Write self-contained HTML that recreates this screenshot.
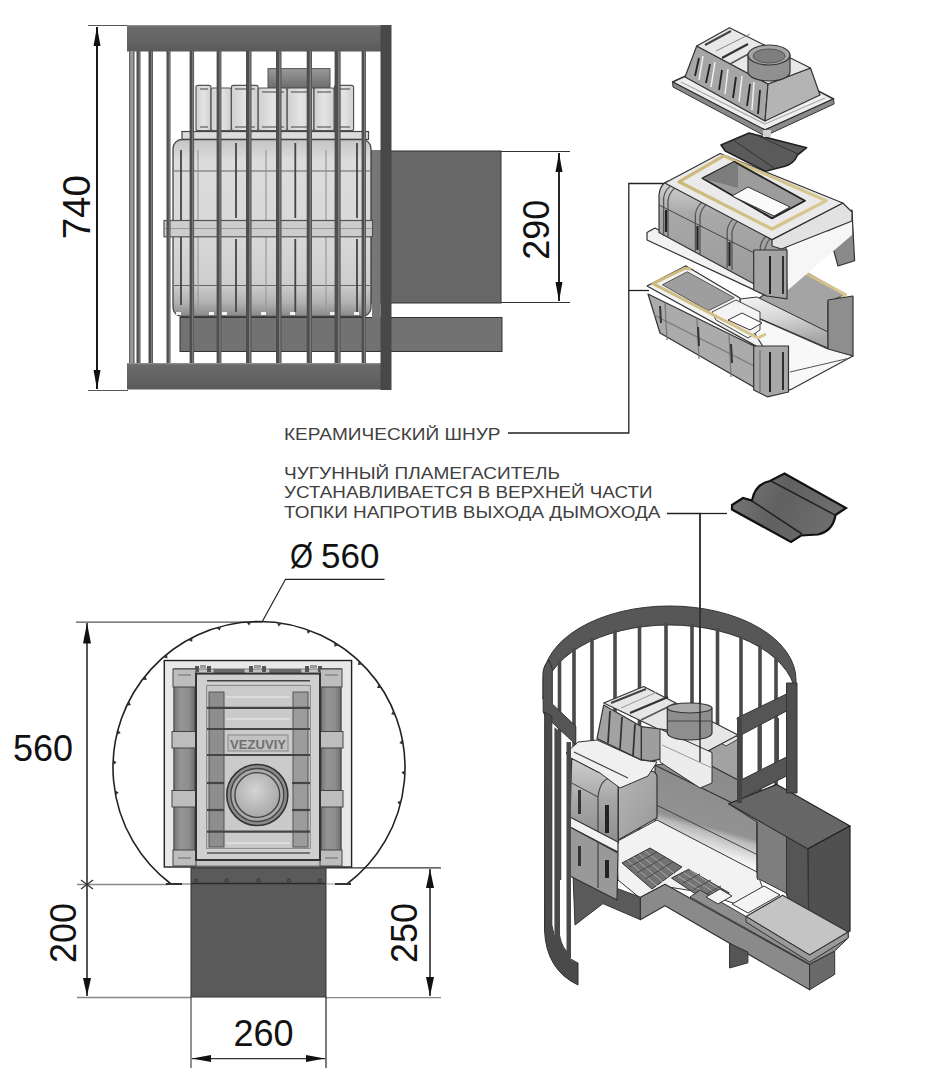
<!DOCTYPE html>
<html><head><meta charset="utf-8">
<style>
html,body{margin:0;padding:0;background:#fff;width:933px;height:1080px;overflow:hidden}
svg{display:block}
text{font-family:"Liberation Sans",sans-serif}
</style></head>
<body>
<svg width="933" height="1080" viewBox="0 0 933 1080">
<defs>
<linearGradient id="plate" x1="0" y1="0" x2="0" y2="1">
<stop offset="0" stop-color="#9a9a9a"/><stop offset="0.07" stop-color="#6a6a6a"/><stop offset="0.6" stop-color="#636363"/><stop offset="1" stop-color="#5a5a5a"/>
</linearGradient>
<linearGradient id="body" x1="0" y1="0" x2="0" y2="1">
<stop offset="0" stop-color="#d0d0d0"/><stop offset="0.15" stop-color="#e6e6e6"/><stop offset="0.8" stop-color="#dcdcdc"/><stop offset="1" stop-color="#9a9a9a"/>
</linearGradient>
</defs>

<!-- ===== FRONT VIEW (top-left) ===== -->
<g id="front">
<!-- dimension 740 -->
<line x1="88" y1="25.5" x2="128" y2="25.5" stroke="#555" stroke-width="1.2"/>
<line x1="88" y1="390.5" x2="128" y2="390.5" stroke="#555" stroke-width="1.2"/>
<line x1="97" y1="27" x2="97" y2="389" stroke="#000" stroke-width="1.8"/>
<polygon points="97,27 93.5,46 100.5,46" fill="#111"/>
<polygon points="97,389 93.5,370 100.5,370" fill="#111"/>
<text transform="translate(90.3,207.2) rotate(-90)" text-anchor="middle" font-size="38.5" fill="#111">740</text>

<!-- flue rectangles -->
<rect x="370" y="151" width="131" height="152" fill="#676767" stroke="#333" stroke-width="1"/>
<rect x="180" y="317.5" width="322" height="34" fill="#727272" stroke="#333" stroke-width="1"/>

<!-- heater ribs top -->
<defs>
<linearGradient id="collar" x1="0" y1="0" x2="0" y2="1">
<stop offset="0" stop-color="#9a9a9a"/><stop offset="1" stop-color="#6e6e6e"/>
</linearGradient>
<linearGradient id="rib" x1="0" y1="0" x2="1" y2="0">
<stop offset="0" stop-color="#cfcfcf"/><stop offset="0.5" stop-color="#e4e4e4"/><stop offset="1" stop-color="#cfcfcf"/>
</linearGradient>
<linearGradient id="bodyv" x1="0" y1="0" x2="0" y2="1">
<stop offset="0" stop-color="#c4c4c4"/><stop offset="0.12" stop-color="#dcdcdc"/><stop offset="0.55" stop-color="#d8d8d8"/><stop offset="0.82" stop-color="#cdcdcd"/><stop offset="0.92" stop-color="#b2b2b2"/><stop offset="1" stop-color="#888"/>
</linearGradient>
</defs>
<rect x="268" y="68.6" width="62" height="19" fill="url(#collar)" stroke="#555" stroke-width="1"/>
<g fill="url(#rib)" stroke="#555" stroke-width="1.2">
<rect x="196" y="85.3" width="15" height="45.4" rx="2"/>
<rect x="211" y="88" width="20.4" height="42.7" rx="2"/>
<rect x="231.4" y="85.3" width="26.8" height="45.4" rx="2"/>
<rect x="258.2" y="88" width="29" height="42.7" rx="2"/>
<rect x="287.2" y="88" width="26.8" height="42.7" rx="2"/>
<rect x="314" y="88" width="20.3" height="42.7" rx="2"/>
<rect x="334.3" y="85.3" width="19.3" height="45.4" rx="2"/>
</g>
<g stroke="#777" stroke-width="1.5">
<line x1="200" y1="89" x2="208" y2="89"/><line x1="235" y1="89" x2="255" y2="89"/><line x1="262" y1="92" x2="284" y2="92"/>
<line x1="291" y1="92" x2="311" y2="92"/><line x1="317" y1="92" x2="331" y2="92"/><line x1="338" y1="89" x2="350" y2="89"/>
<line x1="200" y1="127" x2="208" y2="127"/><line x1="235" y1="127" x2="255" y2="127"/><line x1="262" y1="127" x2="284" y2="127"/>
<line x1="291" y1="127" x2="311" y2="127"/><line x1="317" y1="127" x2="331" y2="127"/><line x1="338" y1="127" x2="350" y2="127"/>
</g>
<rect x="182" y="131.5" width="186.5" height="8" fill="#dcdcdc" stroke="#444" stroke-width="1.2"/>
<!-- main body -->
<rect x="173" y="139.5" width="198" height="177" rx="9" fill="url(#bodyv)" stroke="#444" stroke-width="1.3"/>
<rect x="372" y="150" width="8.5" height="168" fill="#777"/>
<g stroke="#666" stroke-width="1.2">
<line x1="174" y1="171" x2="370" y2="171"/>
<line x1="174" y1="285.5" x2="370" y2="285.5"/>
</g>
<g stroke="#444" stroke-width="1.8">
<line x1="236" y1="143" x2="236" y2="218"/><line x1="295.3" y1="143" x2="295.3" y2="218"/><line x1="357" y1="143" x2="357" y2="218"/>
<line x1="236" y1="239" x2="236" y2="312"/><line x1="295.3" y1="239" x2="295.3" y2="312"/><line x1="357" y1="239" x2="357" y2="312"/>
<line x1="181" y1="150" x2="181" y2="305"/>
</g>
<g stroke="#999" stroke-width="1.2">
<line x1="198" y1="150" x2="198" y2="310"/><line x1="266" y1="150" x2="266" y2="310"/><line x1="326" y1="150" x2="326" y2="310"/>
</g>
<rect x="164" y="220.5" width="208.5" height="16.3" fill="#cdcdcd" stroke="#555" stroke-width="1.2"/>
<line x1="165" y1="228.5" x2="372" y2="228.5" stroke="#999" stroke-width="1"/>
<g fill="#f2f2f2">
<rect x="176" y="312" width="5" height="3"/><rect x="209" y="312" width="5" height="3"/><rect x="222" y="312" width="5" height="3"/>
<rect x="261" y="312" width="5" height="3"/><rect x="290" y="312" width="5" height="3"/><rect x="330" y="312" width="5" height="3"/><rect x="354" y="312" width="5" height="3"/>
</g>

<!-- top and bottom plates -->
<rect x="127" y="25" width="264" height="26.5" fill="url(#plate)"/>
<rect x="127" y="363" width="264" height="26.5" fill="url(#plate)"/>
<!-- bars -->
<g>
<rect x="129" y="51" width="5.4" height="312" fill="#9a9a9a"/><rect x="129" y="51" width="1.3" height="312" fill="#666"/><rect x="133.1" y="51" width="1.3" height="312" fill="#666"/>
<rect x="136.5" y="51" width="4" height="312" fill="#4e4e4e"/><rect x="138.7" y="51" width="1.2" height="312" fill="#7a7a7a"/>
<rect x="148.5" y="51" width="4.5" height="312" fill="#4e4e4e"/><rect x="151.0" y="51" width="1.3" height="312" fill="#7a7a7a"/>
<rect x="166.5" y="51" width="4" height="312" fill="#4e4e4e"/><rect x="168.7" y="51" width="1.2" height="312" fill="#7a7a7a"/>
<rect x="189.6" y="51" width="4.5" height="312" fill="#4e4e4e"/><rect x="192.1" y="51" width="1.3" height="312" fill="#7a7a7a"/>
<rect x="216.6" y="51" width="4.8" height="312" fill="#4e4e4e"/><rect x="219.2" y="51" width="1.4" height="312" fill="#7a7a7a"/>
<rect x="246" y="51" width="5.5" height="312" fill="#4e4e4e"/><rect x="249.0" y="51" width="1.6" height="312" fill="#7a7a7a"/>
<rect x="276" y="51" width="5.5" height="312" fill="#4e4e4e"/><rect x="279.0" y="51" width="1.6" height="312" fill="#7a7a7a"/>
<rect x="306.7" y="51" width="5.3" height="312" fill="#4e4e4e"/><rect x="309.6" y="51" width="1.6" height="312" fill="#7a7a7a"/>
<rect x="334.6" y="51" width="6" height="312" fill="#4e4e4e"/><rect x="337.9" y="51" width="1.8" height="312" fill="#7a7a7a"/>
<rect x="361.6" y="51" width="4.4" height="312" fill="#4e4e4e"/><rect x="364.0" y="51" width="1.3" height="312" fill="#7a7a7a"/>
</g>
<rect x="380.5" y="25" width="11" height="365" fill="#484848"/>

<!-- dimension 290 -->
<line x1="501" y1="151.5" x2="570" y2="151.5" stroke="#333" stroke-width="1.2"/>
<line x1="501" y1="302.5" x2="570" y2="302.5" stroke="#333" stroke-width="1.2"/>
<line x1="559" y1="153" x2="559" y2="301" stroke="#000" stroke-width="1.7"/>
<polygon points="559,153 555.5,172 562.5,172" fill="#111"/>
<polygon points="559,301 555.5,282 562.5,282" fill="#111"/>
<text transform="translate(548.5,229.7) rotate(-90)" text-anchor="middle" font-size="36" fill="#111">290</text>
</g>

<!-- leader lines -->
<g stroke="#222" stroke-width="1.3" fill="none">
<polyline points="683,183.5 628.8,183.5 628.8,433 508,433"/>
<line x1="628.8" y1="290.5" x2="649" y2="290.5"/>
<polyline points="667,513.5 700,513.5 700,762"/>
<line x1="700" y1="513.5" x2="727" y2="513.5"/>
</g>

<!-- labels -->
<g fill="#404040" font-size="16">
<text x="284" y="439.7" textLength="216.5" lengthAdjust="spacingAndGlyphs">КЕРАМИЧЕСКИЙ ШНУР</text>
<text x="284" y="479" textLength="276" lengthAdjust="spacingAndGlyphs">ЧУГУННЫЙ ПЛАМЕГАСИТЕЛЬ</text>
<text x="284" y="498.2" textLength="368.5" lengthAdjust="spacingAndGlyphs">УСТАНАВЛИВАЕТСЯ В ВЕРХНЕЙ ЧАСТИ</text>
<text x="284" y="517.5" textLength="376.5" lengthAdjust="spacingAndGlyphs">ТОПКИ НАПРОТИВ ВЫХОДА ДЫМОХОДА</text>
</g>

<!-- ===== TOP VIEW (bottom-left) ===== -->
<g id="topview">
<!-- dimension lines -->
<g stroke="#555" stroke-width="1.3">
<line x1="76" y1="622.2" x2="262" y2="622.2"/>
<line x1="77" y1="884.5" x2="168" y2="884.5" stroke="#888"/>
<line x1="77" y1="997.5" x2="191" y2="997.5" stroke="#888"/>
<line x1="326" y1="867.8" x2="441" y2="867.8" stroke="#333"/>
<line x1="326" y1="997.6" x2="441" y2="997.6" stroke="#888"/>
<line x1="191" y1="997" x2="191" y2="1068" stroke="#555"/>
<line x1="326" y1="997" x2="326" y2="1068" stroke="#333"/>
</g>
<g stroke="#111" stroke-width="1.4">
<line x1="87" y1="623" x2="87" y2="996"/>
<line x1="430" y1="869" x2="430" y2="996"/>
<line x1="192" y1="1058.6" x2="325" y2="1058.6" stroke="#333"/>
</g>
<g fill="#111">
<polygon points="87,623 83,643.5 91,643.5"/>
<polygon points="87,996 83,978 91,978"/>
<polygon points="430,869 426,888 434,888"/>
<polygon points="430,996 426,977 434,977"/>
<polygon points="192,1058.6 211,1055 211,1062"/>
<polygon points="325,1058.6 306,1055 306,1062"/>
</g>
<path d="M81,880 L93,889 M81,889 L93,880" stroke="#333" stroke-width="1.2"/>
<!-- leader Ø -->
<polyline points="262,622 285.5,579.3 384.5,579.3" fill="none" stroke="#222" stroke-width="1.2"/>
<text x="290" y="567.7" font-size="35" fill="#111" textLength="23" lengthAdjust="spacingAndGlyphs">Ø</text>
<text x="321" y="567.7" font-size="35" fill="#111">560</text>
<text x="13" y="760.7" font-size="36" fill="#111">560</text>
<text transform="translate(76,933) rotate(-90)" text-anchor="middle" font-size="36" fill="#111">200</text>
<text transform="translate(416.5,933) rotate(-90)" text-anchor="middle" font-size="36" fill="#111">250</text>
<text x="263.5" y="1045.7" text-anchor="middle" font-size="36" fill="#111">260</text>

<!-- flue -->
<rect x="191" y="868" width="135" height="129" fill="#5a5a5a" stroke="#333" stroke-width="1"/>
<line x1="191" y1="883.5" x2="326" y2="883.5" stroke="#2a2a2a" stroke-width="1.3"/>
<g fill="none" stroke="#333" stroke-width="1"><circle cx="196" cy="880.5" r="1.6"/><circle cx="226.6" cy="880.5" r="1.6"/><circle cx="258.5" cy="880.5" r="1.6"/><circle cx="289" cy="880.5" r="1.6"/><circle cx="319.8" cy="880.5" r="1.6"/></g>
<!-- circle arc -->
<path d="M171,884 A146,146 0 1 1 347,884" fill="none" stroke="#222" stroke-width="1.6"/>
<path d="M166,884 L182,884 M335,884 L351,884" stroke="#333" stroke-width="2.2"/><line x1="182" y1="884" x2="191" y2="884" stroke="#666" stroke-width="1"/><line x1="326" y1="884" x2="335" y2="884" stroke="#999" stroke-width="1"/>
<g fill="#333"><polygon points="115.3,790.7 116.1,795.0 118.7,792.3"/><polygon points="113.7,760.3 113.5,764.7 116.6,762.6"/><polygon points="118.4,730.3 117.3,734.5 120.7,733.1"/><polygon points="129.2,701.8 127.3,705.8 130.9,705.1"/><polygon points="145.7,676.3 143.0,679.8 146.7,679.9"/><polygon points="167.2,654.7 163.8,657.6 167.4,658.4"/><polygon points="192.6,638.1 188.7,640.2 192.1,641.8"/><polygon points="221.0,627.1 216.8,628.3 219.7,630.6"/><polygon points="251.0,622.3 246.7,622.6 249.1,625.4"/><polygon points="281.4,623.8 277.1,623.2 278.8,626.5"/><polygon points="310.8,631.6 306.7,630.1 307.7,633.7"/><polygon points="338.0,645.4 334.2,643.0 334.5,646.8"/><polygon points="361.7,664.5 358.5,661.4 358.0,665.1"/><polygon points="380.9,688.1 378.4,684.4 377.1,687.9"/><polygon points="394.7,715.1 393.1,711.1 391.1,714.2"/><polygon points="402.7,744.5 401.9,740.2 399.3,742.9"/><polygon points="404.3,774.9 404.5,770.5 401.4,772.6"/><polygon points="399.6,804.9 400.7,800.7 397.3,802.1"/></g>
<!-- stove square -->
<defs>
<linearGradient id="colg" x1="0" y1="0" x2="1" y2="0">
<stop offset="0" stop-color="#777"/><stop offset="0.3" stop-color="#949494"/><stop offset="0.7" stop-color="#8e8e8e"/><stop offset="1" stop-color="#6e6e6e"/>
</linearGradient>
<radialGradient id="holeg" cx="0.45" cy="0.4" r="0.6">
<stop offset="0" stop-color="#d4d4d4"/><stop offset="1" stop-color="#a8a8a8"/>
</radialGradient>
</defs>
<rect x="164.3" y="660.5" width="187.3" height="206.5" fill="#e8e8e8" stroke="#222" stroke-width="1.4"/>
<rect x="174" y="669" width="167" height="197" fill="#c4c4c4" stroke="#777" stroke-width="1"/>
<!-- top strip bars & bolts -->
<rect x="213.6" y="669" width="31" height="4.5" fill="#6a6a6a"/>
<rect x="269.3" y="669" width="32" height="4.5" fill="#6a6a6a"/>
<g fill="#555">
<rect x="195" y="666" width="4" height="6"/><rect x="207" y="666" width="4" height="6"/><rect x="200" y="665" width="6" height="3" fill="#999"/>
<rect x="249" y="666" width="4" height="6"/><rect x="262" y="666" width="4" height="6"/><rect x="254" y="665" width="7" height="3" fill="#999"/>
<rect x="305" y="666" width="4" height="6"/><rect x="318" y="666" width="4" height="6"/><rect x="310" y="665" width="7" height="3" fill="#999"/>
</g>
<!-- side columns -->
<rect x="174" y="669" width="21" height="197" fill="url(#colg)" stroke="#444" stroke-width="1"/>
<rect x="321" y="669" width="20" height="197" fill="url(#colg)" stroke="#444" stroke-width="1"/>
<g fill="#bdbdbd" stroke="#444" stroke-width="1">
<rect x="173" y="669" width="23" height="18"/>
<rect x="172" y="731.5" width="24" height="16.5"/>
<rect x="172" y="790.5" width="24" height="16.5"/>
<rect x="173" y="850" width="23" height="16"/>
<rect x="320" y="669" width="22" height="18"/>
<rect x="320" y="731.5" width="23" height="16.5"/>
<rect x="320" y="790.5" width="23" height="16.5"/>
<rect x="320" y="850" width="22" height="16"/>
</g>
<g stroke="#777" stroke-width="1.2">
<line x1="178" y1="675" x2="191" y2="675"/><line x1="325" y1="675" x2="338" y2="675"/>
<line x1="178" y1="858" x2="191" y2="858"/><line x1="325" y1="858" x2="338" y2="858"/>
</g>
<!-- inner panel -->
<rect x="196" y="673.6" width="124" height="186.4" fill="#d0d0d0" stroke="#333" stroke-width="2"/>
<line x1="207" y1="680.7" x2="310" y2="680.7" stroke="#444" stroke-width="1.5"/>
<line x1="207" y1="853" x2="310" y2="853" stroke="#555" stroke-width="1.5"/>
<rect x="206.6" y="685.4" width="103.7" height="163" fill="#cacaca" stroke="#888" stroke-width="1"/>
<rect x="209" y="692" width="15" height="155" fill="#8e8e8e" stroke="#555" stroke-width="1"/>
<rect x="293" y="692" width="15" height="155" fill="#9c9c9c" stroke="#555" stroke-width="1"/>
<g stroke="#444" stroke-width="2.2">
<line x1="207" y1="707.8" x2="310" y2="707.8"/>
<line x1="207" y1="729" x2="310" y2="729"/>
<line x1="207" y1="755" x2="310" y2="755"/>
<line x1="207" y1="783" x2="224" y2="783"/><line x1="292" y1="783" x2="310" y2="783"/>
<line x1="207" y1="810" x2="224" y2="810"/><line x1="292" y1="810" x2="310" y2="810"/>
<line x1="207" y1="831.6" x2="310" y2="831.6"/>
</g>
<g stroke="#eee" stroke-width="1">
<line x1="226" y1="697" x2="290" y2="697"/><line x1="226" y1="719" x2="290" y2="719"/><line x1="226" y1="843" x2="290" y2="843"/>
</g>
<rect x="228" y="735" width="60" height="16" fill="#c2c2c2" stroke="#888" stroke-width="1"/>
<text x="258" y="749" text-anchor="middle" font-size="13" font-weight="bold" fill="#707070" textLength="56" lengthAdjust="spacingAndGlyphs">VEZUVIY</text>
<circle cx="257.3" cy="795" r="30.5" fill="#8a8a8a" stroke="#333" stroke-width="1.6"/>
<circle cx="257.3" cy="795" r="26.5" fill="#aaaaaa" stroke="#444" stroke-width="1.4"/>
<circle cx="257.3" cy="795" r="22.4" fill="url(#holeg)" stroke="#444" stroke-width="1.4"/>
</g>


<!-- ===== EXPLODED VIEW (top-right) ===== -->
<g id="exploded" stroke-linejoin="round">
<defs>
<linearGradient id="cordg" x1="0" y1="0" x2="1" y2="0"><stop offset="0" stop-color="#cdb87c"/><stop offset="1" stop-color="#d8c892"/></linearGradient>
<linearGradient id="frontface" x1="0" y1="0" x2="0" y2="1">
<stop offset="0" stop-color="#d4d4d4"/><stop offset="0.3" stop-color="#a8a8a8"/><stop offset="1" stop-color="#9a9a9a"/>
</linearGradient>
<linearGradient id="interior" x1="0" y1="0" x2="1" y2="1">
<stop offset="0" stop-color="#a0a0a0"/><stop offset="0.55" stop-color="#e6e6e6"/><stop offset="1" stop-color="#bdbdbd"/>
</linearGradient>
</defs>
<!-- ===== lower block ===== -->
<defs>
<linearGradient id="lowin" x1="0" y1="0" x2="0.3" y2="1">
<stop offset="0" stop-color="#f4f4f4"/><stop offset="0.5" stop-color="#d6d6d6"/><stop offset="1" stop-color="#a6a6a6"/>
</linearGradient>
</defs>
<!-- back wall inner face -->
<polygon points="770,258 788,262 845.6,294.6 828,302 828,334 757,300 770,290" fill="#a4a4a4" stroke="#333" stroke-width="1.2"/>
<polyline points="788.5,264 845.6,294.6 836,302" fill="none" stroke="url(#cordg)" stroke-width="3"/>
<!-- lower inner gradient surface -->
<polygon points="740,299 757,297 828,332 828,348 740,310" fill="url(#lowin)" stroke="#333" stroke-width="1"/>
<!-- right end cut face of back wall -->
<polygon points="828,300 853,296 853,356 828,350" fill="#8e8e8e" stroke="#333" stroke-width="1.2"/>
<!-- white floor at right -->
<polygon points="735,308 828,349 853,356 790,390 768,380" fill="#f8f8f8" stroke="#333" stroke-width="1.2"/>
<line x1="790" y1="372" x2="850" y2="358" stroke="#555" stroke-width="1"/>
<!-- rim + floor left -->
<polygon points="647,286 686,265.9 740,298 740,310 762.6,346 762.6,349.6" fill="#f2f2f2" stroke="#333" stroke-width="1.2"/>
<polygon points="662.4,284.8 687.2,271.8 734.3,297.7 708.4,310.7" fill="#9e9e9e" stroke="#555" stroke-width="1"/>
<polygon points="712,312 736,300 760,312 760,330 748,338 716,320" fill="#f4f4f4" stroke="#444" stroke-width="1"/>
<polygon points="728,320 742,313 762,323 750,330" fill="#fcfcfc" stroke="#333" stroke-width="1"/>
<polyline points="691,269 684.8,268.3 653,283.6 758,338 766,334" fill="none" stroke="url(#cordg)" stroke-width="3"/>
<!-- front face -->
<polygon points="648,294 760,349 764,393 660,333" fill="#ababab" stroke="#333" stroke-width="1.2"/>
<g stroke="#777" stroke-width="1.2">
<line x1="665" y1="303" x2="667" y2="340"/><line x1="697" y1="319" x2="699" y2="359"/>
<line x1="729" y1="335" x2="731" y2="377"/>
<line x1="654" y1="315" x2="762" y2="370"/>
</g>
<g stroke="#333" stroke-width="2">
<line x1="660" y1="306" x2="661" y2="323"/><line x1="698" y1="327" x2="699" y2="346"/>
<line x1="731" y1="344" x2="732" y2="363"/>
</g>
<!-- cut face of front wall -->
<polygon points="753.7,346 788.5,346 788.5,392 767.3,396.8 753.7,390" fill="#a8a8a8" stroke="#333" stroke-width="1.2"/>
<line x1="770" y1="352" x2="770" y2="392" stroke="#222" stroke-width="2"/>
<line x1="783" y1="352" x2="783" y2="390" stroke="#222" stroke-width="1.8"/>
<line x1="760" y1="350" x2="760" y2="392" stroke="#666" stroke-width="1"/>
<!-- ===== upper block ===== -->
<!-- back hanging wall -->
<polygon points="826,222 852,210 854.6,260.8 838,266" fill="#8a8a8a" stroke="#333" stroke-width="1.2"/>
<!-- white interior -->
<polygon points="786,250 852,221 852,235 788,290" fill="#f6f6f6"/>
<!-- ledge -->
<polygon points="647,232.5 655,228 770,288 767.3,296 647,240" fill="#f2f2f2" stroke="#333" stroke-width="1.2"/>
<!-- front face -->
<path d="M659,232.5 L659,195 Q660,184 668,181 L772,239.6 L786,246 L786,291 L767,291 Z" fill="url(#frontface)" stroke="#333" stroke-width="1.2"/>
<g stroke="#555" stroke-width="1.3" fill="none">
<path d="M663.6,236 L663.6,198 Q665,188 674,184"/><path d="M668,238 L668,200 Q670,190 678,186"/>
<path d="M695.4,252 L695.4,214 Q697,204 706,200"/><path d="M700,254 L700,216 Q702,206 710,202"/>
<path d="M727.2,268 L727.2,230 Q729,220 738,216"/><path d="M732,270 L732,232 Q734,222 742,218"/>
<path d="M760.3,285 L760.3,247 Q762,237 771,233"/><path d="M765,287 L765,249 Q767,239 775,235"/>
</g>
<g stroke="#444" stroke-width="1">
<line x1="659" y1="205" x2="772" y2="262"/>
</g>
<g stroke="#222" stroke-width="2.2">
<line x1="666" y1="210" x2="666" y2="232"/><line x1="697.5" y1="226" x2="697.5" y2="250"/>
<line x1="729.5" y1="242" x2="729.5" y2="266"/><line x1="775" y1="256" x2="775" y2="286"/>
</g>
<polygon points="753.7,250 787,250 787,298.8 767,296 753.7,290" fill="#a4a4a4" stroke="#333" stroke-width="1.2"/>
<line x1="770" y1="256" x2="770" y2="294" stroke="#222" stroke-width="2"/>
<line x1="783" y1="256" x2="783" y2="294" stroke="#222" stroke-width="1.8"/>
<!-- top thickness band at right -->
<polygon points="772,239.6 842.8,203 852,212 852,221 781.5,249 772,246" fill="#e2e2e2" stroke="#333" stroke-width="1.2"/>
<!-- top surface -->
<polygon points="664.8,183 720.2,153.5 842.8,203 772,239.6" fill="#eaeaea" stroke="#333" stroke-width="1.2"/>
<polygon points="679,181.8 723.7,155.9 826.3,200.7 772,229" fill="none" stroke="url(#cordg)" stroke-width="3.2"/>
<polygon points="702.5,178.3 734.3,161.8 805,200.7 772,218.4" fill="#9c9c9c" stroke="#222" stroke-width="1.8"/>
<polygon points="703,178.5 734,162 738,165 738,188" fill="#7c7c7c"/>
<polygon points="732,196 748,187 790,207 774,216" fill="#fafafa" stroke="#333" stroke-width="1"/>

<!-- flame arrester -->
<path d="M721,145 L749,133 L806.7,147.7 L797.5,155 Q794,164 784,166.5 L765.4,171.3 L725.3,151 Z" fill="#5a5a5a" stroke="#222" stroke-width="1.6"/>
<line x1="733" y1="140" x2="774" y2="168" stroke="#333" stroke-width="1"/>
<line x1="755" y1="134.5" x2="798" y2="154" stroke="#333" stroke-width="1"/>

<!-- top cover flange -->
<polygon points="672.5,82 741,50.5 833.6,99 765,130" fill="#eeeeee" stroke="#333" stroke-width="1.5"/>
<polygon points="672.5,82 765,130 833.6,99 834,104 765,136 673,87" fill="#8a8a8a" stroke="#333" stroke-width="1"/>
<polyline points="681,82 765,124 825,98" fill="none" stroke="#aaa" stroke-width="1.2"/>
<!-- box long front face -->
<polygon points="685,77 696.7,46 768,84 765,121" fill="#a6a6a6" stroke="#333" stroke-width="1.2"/>
<g stroke="#f0f0f0" stroke-width="1.5">
<line x1="703" y1="56" x2="699" y2="80"/><line x1="715" y1="62" x2="711" y2="87"/>
<line x1="728" y1="69" x2="725" y2="94"/><line x1="742" y1="76" x2="739" y2="102"/><line x1="754" y1="82" x2="752" y2="110"/>
</g>
<g stroke="#222" stroke-width="1.8">
<line x1="699" y1="58" x2="695" y2="76"/><line x1="710" y1="64" x2="706" y2="83"/>
<line x1="722" y1="70" x2="719" y2="90"/><line x1="736" y1="77" x2="733" y2="98"/>
<line x1="750" y1="84" x2="747" y2="106"/><line x1="760" y1="90" x2="758" y2="114"/>
</g>
<!-- box right end face -->
<polygon points="765,121 768,84 810.5,68 820,95" fill="#b4b4b4" stroke="#333" stroke-width="1.2"/>
<!-- box top -->
<polygon points="696.7,46 729.5,27.7 810.5,68 768,84" fill="#e8e8e8" stroke="#333" stroke-width="1.2"/>
<line x1="705" y1="45" x2="731" y2="31" stroke="#444" stroke-width="2"/>
<line x1="716" y1="51" x2="750" y2="34" stroke="#888" stroke-width="1"/>
<line x1="722" y1="58" x2="748" y2="44" stroke="#333" stroke-width="2.2"/>
<line x1="730" y1="64" x2="752" y2="52" stroke="#555" stroke-width="1.5"/>
<!-- collar -->
<path d="M748,55 L748,72 A21,9 0 0 0 790,72 L790,55 Z" fill="#909090" stroke="#333" stroke-width="1.2"/>
<ellipse cx="769" cy="55" rx="21" ry="10" fill="#a6a6a6" stroke="#333" stroke-width="1.2"/>
<ellipse cx="769" cy="56" rx="16" ry="7" fill="#7e7e7e" stroke="#555" stroke-width="1"/>
<rect x="763" y="130" width="8" height="7" fill="#d0d0d0"/>

</g>

<!-- ===== ISO VIEW (bottom-right) ===== -->
<g id="iso" stroke-linejoin="round">
<!-- back ring band -->
<path d="M543,680 A126.5,74 0 0 1 796,680 L796,699 A126.5,74 0 0 0 543,699 Z" fill="#575757" stroke="#333" stroke-width="1"/>
<!-- back bars -->
<g fill="#4a4a4a">
<rect x="557.7" y="660" width="3.6" height="220"/>
<rect x="572.2" y="648" width="3.6" height="230"/>
<rect x="590.2" y="638" width="3.6" height="240"/>
<rect x="613.2" y="630" width="3.6" height="248"/>
<rect x="637.7" y="625" width="3.6" height="253"/>
<rect x="664.2" y="623" width="3.6" height="255"/>
<rect x="690.2" y="624" width="3.6" height="254"/>
<rect x="715.7" y="628" width="3.6" height="250"/>
<rect x="739.2" y="636" width="3.6" height="242"/>
<rect x="758.2" y="645" width="3.6" height="233"/>
<rect x="774.2" y="657" width="3.6" height="221"/>
</g>

<!-- stove body -->
<defs>
<linearGradient id="wall" gradientUnits="userSpaceOnUse" x1="705" y1="777" x2="680" y2="867">
<stop offset="0" stop-color="#8c8c8c"/><stop offset="0.5" stop-color="#929292"/><stop offset="0.56" stop-color="#bababa"/><stop offset="0.76" stop-color="#f2f2f2"/><stop offset="0.85" stop-color="#ffffff"/><stop offset="1" stop-color="#eeeeee"/>
</linearGradient>
<linearGradient id="endface" x1="0" y1="0" x2="1" y2="1">
<stop offset="0" stop-color="#b4b4b4"/><stop offset="0.6" stop-color="#a4a4a4"/><stop offset="1" stop-color="#969696"/>
</linearGradient>
<linearGradient id="ribface" x1="0" y1="0" x2="0" y2="1">
<stop offset="0" stop-color="#cfcfcf"/><stop offset="0.5" stop-color="#a6a6a6"/><stop offset="1" stop-color="#8e8e8e"/>
</linearGradient>
</defs>
<!-- cover right block -->
<polygon points="710,737 724,730 738,738 737.5,784 716,792 710,786" fill="#a2a2a2" stroke="#333" stroke-width="1"/>
<polygon points="710,737 724,730 740,738 726,746" fill="#e6e6e6" stroke="#444" stroke-width="1"/>
<!-- interior back wall -->
<polygon points="655,765 700,760 757,790 757,882 655,828" fill="url(#wall)" stroke="#333" stroke-width="1.2"/>
<line x1="655" y1="765.3" x2="757" y2="815" stroke="#333" stroke-width="1.2"/>
<line x1="655" y1="804.3" x2="757" y2="854.5" stroke="#444" stroke-width="1"/>
<!-- floor -->
<polygon points="616,842 657,820 757,872 764,892 742,906 700,892 662,886 640,898 618,880" fill="#f2f2f2" stroke="#333" stroke-width="1"/>
<!-- grates -->
<polygon points="622,863 650,848 682,867 652,889" fill="#727272" stroke="#333" stroke-width="1"/>
<polygon points="671.5,878 688.6,869.3 729.3,892.9 710,903.6" fill="#747474" stroke="#333" stroke-width="1"/>
<g stroke="#a8a8a8" stroke-width="1">
<line x1="627" y1="860" x2="657" y2="886"/><line x1="633" y1="857" x2="663" y2="882"/><line x1="639" y1="854" x2="669" y2="878"/><line x1="645" y1="851" x2="675" y2="874"/>
<line x1="678" y1="876" x2="716" y2="900"/><line x1="684" y1="873" x2="722" y2="897"/><line x1="690" y1="870" x2="726" y2="894"/>
</g>
<g stroke="#4a4a4a" stroke-width="1">
<line x1="629" y1="867" x2="657" y2="852"/><line x1="637" y1="873" x2="665" y2="857"/><line x1="645" y1="879" x2="673" y2="862"/>
<line x1="683" y1="883" x2="700" y2="874"/><line x1="693" y1="890" x2="711" y2="880"/><line x1="703" y1="896" x2="721" y2="886"/>
</g>
<!-- base -->
<polygon points="572.9,872 640.4,897.2 640.4,919.7 602.9,903.6 575,925" fill="#5a5a5a" stroke="#333" stroke-width="1"/>
<polygon points="640.4,897.2 665,884.3 809.6,964.7 809.6,989.8 665,905.7 640.4,919.7" fill="#8a8a8a" stroke="#333" stroke-width="1.2"/>
<polygon points="809.6,964.7 834.7,951.2 834.7,974.4 809.6,989.8" fill="#6a6a6a" stroke="#333" stroke-width="1"/>
<polygon points="729.5,943.5 747.9,952 747.9,962.8 729.5,968" fill="#555" stroke="#333" stroke-width="1"/>

<!-- upper ribbed face -->
<path d="M571.7,758.3 L598,772 Q612,776 618.3,787 L618.3,843 L570,818 Z" fill="url(#ribface)" stroke="#333" stroke-width="1.2"/>
<line x1="571.7" y1="783" x2="598" y2="797" stroke="#444" stroke-width="1"/>
<path d="M598,833 L598,797 Q600,780 610,778" fill="none" stroke="#444" stroke-width="1.2"/>
<rect x="605" y="805" width="4" height="28" fill="#222"/>
<rect x="578" y="790" width="3" height="24" fill="#333"/>
<!-- ledge -->
<polygon points="568,816 618,842 618,852 568,826" fill="#f2f2f2" stroke="#333" stroke-width="1.2"/>
<!-- lower ribbed face -->
<polygon points="570,827 618,853 617,900 570,876" fill="#999" stroke="#333" stroke-width="1.2"/>
<line x1="598" y1="842" x2="598" y2="888" stroke="#444" stroke-width="1.2"/>
<rect x="605" y="860" width="4" height="18" fill="#222"/>
<rect x="578" y="846" width="3" height="20" fill="#333"/>
<!-- end face -->
<path d="M618.3,787 L646,772 Q655,769 657,776 L657,818 L618.3,840 Z" fill="url(#endface)" stroke="#333" stroke-width="1.2"/>
<!-- top surface strip left of cover -->
<polygon points="566,753 578,742 597,740 641,760 657,762 648,776 620,788 600,773 571,758" fill="#f0f0f0" stroke="#333" stroke-width="1"/>
<line x1="574" y1="752" x2="628" y2="778" stroke="#444" stroke-width="1.2"/>
<!-- cover top (extends behind collar) -->
<polygon points="603.7,703 643.7,686.5 738,735 706,752" fill="#e6e6e6" stroke="#333" stroke-width="1.2"/>
<line x1="611" y1="703" x2="646" y2="689" stroke="#444" stroke-width="2"/>
<line x1="630" y1="713" x2="668" y2="697" stroke="#333" stroke-width="2.4"/>
<line x1="621" y1="708" x2="657" y2="692" stroke="#999" stroke-width="1"/>
<line x1="641" y1="720" x2="676" y2="703" stroke="#555" stroke-width="1.5"/>
<!-- cover grey ribbed face -->
<polygon points="603.7,705 641.4,726.6 641.4,760 597,738.6" fill="#a2a2a2" stroke="#333" stroke-width="1.2"/>
<g stroke="#333" stroke-width="1.8">
<line x1="610" y1="711" x2="608" y2="743"/><line x1="622" y1="717" x2="620" y2="749"/><line x1="635" y1="724" x2="633" y2="756"/>
</g>
<!-- cover rounded grey part -->
<path d="M641.4,726.6 L668,730 L672,745 Q668,760 650,761 L641.4,759.6 Z" fill="#9e9e9e" stroke="#333" stroke-width="1.2"/>
<!-- light strip -->
<polygon points="660,729 712,752.5 712,783 700,788 660,762" fill="#ececec" stroke="#333" stroke-width="1"/>
<line x1="662" y1="745" x2="712" y2="768" stroke="#999" stroke-width="1"/>
<!-- collar -->
<path d="M667.3,708 L667.3,733 A22.35,7 0 0 0 712,733 L712,708 Z" fill="#8e8e8e" stroke="#333" stroke-width="1.2"/>
<ellipse cx="689.6" cy="708" rx="22.35" ry="5" fill="#a8a8a8" stroke="#333" stroke-width="1.2"/>
<line x1="668" y1="721" x2="711" y2="721" stroke="#6a6a6a" stroke-width="2"/>

<!-- flue box -->
<polygon points="728.6,803.7 776.8,784.4 850,826 807.7,849" fill="#666" stroke="#222" stroke-width="1.2"/>
<polygon points="807.7,849 850,826 850,931 809,955" fill="#505050" stroke="#222" stroke-width="1.2"/>
<polygon points="728.6,803.7 807.7,849 809,955 786,893 757,878 757,822" fill="#7e7e7e" stroke="#333" stroke-width="1"/>
<polygon points="786.5,837 807.7,849 809,955 786.5,894" fill="#555" stroke="#333" stroke-width="1"/>
<line x1="757.5" y1="822" x2="757.5" y2="880" stroke="#444" stroke-width="1"/>
<!-- plate -->
<polygon points="690,897 809.6,964 834.7,951 848.2,938 848.2,932 809.6,955 746,916.5 700,890" fill="#8e8e8e" stroke="#333" stroke-width="1"/>
<polygon points="746,916.5 782.6,895.2 848.2,932 809.6,955" fill="#c4c4c4" stroke="#333" stroke-width="1.2"/>
<polygon points="746,916.5 809.6,955 848.2,932 848.2,938 809.6,962 746,922" fill="#9a9a9a" stroke="#333" stroke-width="1"/>
<polygon points="732,904 764,886 780,895 748,913" fill="#f4f4f4" stroke="#333" stroke-width="1"/>
<polygon points="706,897 720,889 732,896 718,904" fill="#f4f4f4" stroke="#333" stroke-width="1"/>
<!-- right front panel of cage -->
<polygon points="737,718 786.5,694 786.5,711 741,735" fill="#555" stroke="#333" stroke-width="1"/>
<polygon points="741,780 786.5,757 786.5,776 741,799" fill="#555" stroke="#333" stroke-width="1"/>
<rect x="757.5" y="727" width="4" height="44" fill="#4a4a4a"/>
<rect x="775" y="718" width="4" height="44" fill="#4a4a4a"/>
<rect x="737" y="718" width="5" height="85" fill="#444"/>
<rect x="786.5" y="683" width="10.5" height="110" fill="#4e4e4e" stroke="#333" stroke-width="1"/>

<!-- front-left ring segment and left posts -->
<path d="M543,672 Q543.5,665 549,660 L552.3,669 L552.3,704 L575.8,726.3 L575.8,744.6 L545.2,716 L543.2,712 Z" fill="#555" stroke="#333" stroke-width="1"/>
<path d="M544.7,712 L551.8,716 L551.8,925 Q556,955 578,963 L578,985 Q546,970 544.5,930 Z" fill="#4a4a4a" stroke="#333" stroke-width="1"/>
<path d="M554.4,727 L560,732 L560,935 Q563,950 570,953 L570,958 Q555,952 554.4,935 Z" fill="#4a4a4a"/>
<rect x="566.5" y="742" width="4.5" height="216" fill="#4a4a4a"/>
</g>

<!-- iso flame arrester -->
<defs>
<linearGradient id="arrg" x1="0" y1="0" x2="1" y2="0.3">
<stop offset="0" stop-color="#7a7a7a"/><stop offset="0.5" stop-color="#606060"/><stop offset="1" stop-color="#6e6e6e"/>
</linearGradient>
</defs>
<path d="M732,505 L743,498 L752,500.5 Q755,484 770,481 L784.5,473.5 L846,508 L835.5,515 Q833,531 818,534.5 L801,535.5 L791,542 L732,509.5 Z" fill="url(#arrg)" stroke="#111" stroke-width="2.2"/>
<line x1="752" y1="501" x2="802" y2="534" stroke="#222" stroke-width="1.5"/>
<line x1="771" y1="481" x2="835" y2="515" stroke="#222" stroke-width="1.5"/>
<!-- leader over iso -->
<line x1="700" y1="513.5" x2="700" y2="762" stroke="#222" stroke-width="1.3"/>
</svg>
</body></html>
